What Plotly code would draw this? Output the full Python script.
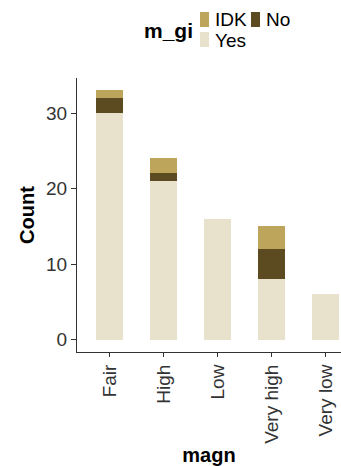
import plotly.graph_objects as go

# Counts of m_gi responses for each magnitude class
categories = ["Fair", "High", "Low", "Very high", "Very low"]
yes_counts = [30, 21, 16, 8, 6]
no_counts = [2, 1, 0, 4, 0]
idk_counts = [1, 2, 0, 3, 0]

groups = ["Yes", "No", "IDK"]
values = {"Yes": yes_counts, "No": no_counts, "IDK": idk_counts}
colors = {"Yes": "#E8E2CC", "No": "#5C4B20", "IDK": "#BDA55C"}

FONT = "Liberation Sans, Arial, sans-serif"
W, H = 341, 466
L, R, T, B = 77, 0, 78, 114
PW, PH = W - L - R, H - T - B

fig = go.Figure()
for g in groups:
    fig.add_trace(go.Bar(
        x=categories, y=values[g], name=g, width=0.5,
        marker=dict(color=colors[g], line=dict(width=0)),
        showlegend=False,
    ))

# Legend drawn as swatches and labels above the panel
def px_x(x):
    return (x - L) / PW

def px_y(y):
    return (H - B - y) / PH

legend_slots = {"IDK": (200, 12), "No": (251, 12), "Yes": (200, 32)}
shapes = []
annotations = []
for g in groups:
    sx, sy = legend_slots[g]
    shapes.append(dict(type="rect", xref="paper", yref="paper",
                       x0=px_x(sx), x1=px_x(sx + 9), y0=px_y(sy + 15), y1=px_y(sy),
                       fillcolor=colors[g], line=dict(width=0)))
    annotations.append(dict(text=g, xref="paper", yref="paper",
                            x=px_x(sx + 13), y=px_y(sy + 8), xanchor="left", yanchor="middle",
                            showarrow=False, font=dict(family=FONT, size=19, color="#000000")))
annotations.append(dict(text="<b>m_gi</b>", xref="paper", yref="paper",
                        x=px_x(195), y=px_y(31), xanchor="right", yanchor="middle",
                        showarrow=False, font=dict(family=FONT, size=21, color="#000000")))

fig.update_layout(
    width=W, height=H,
    margin=dict(l=L, r=R, t=T, b=B, autoexpand=False),
    paper_bgcolor="white", plot_bgcolor="white",
    barmode="stack", bargap=0,
    font=dict(family=FONT),
    shapes=shapes, annotations=annotations,
)
fig.update_xaxes(
    type="category", range=[-0.6, -0.6 + PW / 54.0],
    showline=True, linecolor="#333333", linewidth=1,
    ticks="outside", ticklen=4, tickcolor="#333333",
    tickangle=-90, tickfont=dict(family=FONT, size=19, color="#333333"),
    showgrid=False, zeroline=False, automargin=False,
    title=dict(text="<b>magn</b>", font=dict(family=FONT, size=20, color="#000000"), standoff=8),
)
fig.update_yaxes(
    range=[-1.65, 34.65], tickvals=[0, 10, 20, 30],
    showline=True, linecolor="#333333", linewidth=1,
    ticks="outside", ticklen=5, tickcolor="#333333",
    tickfont=dict(family=FONT, size=19, color="#333333"),
    showgrid=False, zeroline=False, automargin=False,
    title=dict(text="<b>Count</b>", font=dict(family=FONT, size=20, color="#000000"), standoff=6),
)

fig.write_html("out.html")
